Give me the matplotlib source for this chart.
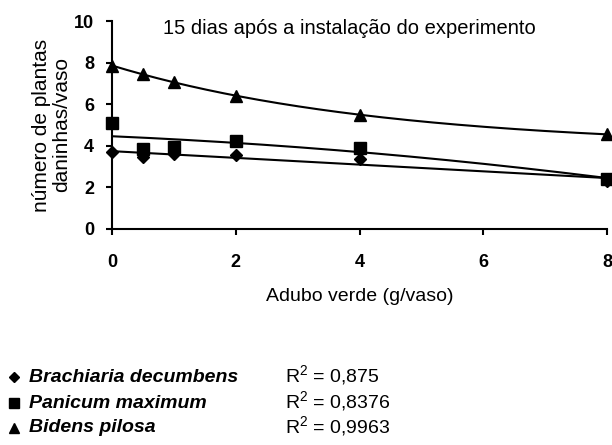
import numpy as np
import matplotlib
matplotlib.use("Agg")
import matplotlib.pyplot as plt

plt.rcParams['font.family'] = ['Liberation Sans', 'DejaVu Sans']
plt.rcParams['mathtext.fontset'] = 'custom'
plt.rcParams['mathtext.rm'] = 'Liberation Sans'

doses = [0, 0.5, 1, 2, 4, 8]
brachiaria = [3.7, 3.45, 3.6, 3.55, 3.35, 2.3]
panicum = [5.1, 3.85, 3.95, 4.25, 3.9, 2.4]
bidens = [7.85, 7.45, 7.05, 6.4, 5.5, 4.55]
names = ["Brachiaria decumbens", "Panicum maximum", "Bidens pilosa"]
r2_labels = ["0,875", "0,8376", "0,9963"]
xticks = [0, 2, 4, 6, 8]
yticks = [0, 2, 4, 6, 8, 10]

fig = plt.figure(figsize=(6.12, 4.45), dpi=100)
ax = fig.add_axes([112 / 612, 1 - 229 / 445, (607 - 112) / 612, (229 - 21) / 445])

xf = np.linspace(0, 8, 200)
x = np.asarray(doses, float)


def poly_fit(vals, deg):
    c = np.polyfit(x, vals, deg)
    return np.polyval(c, xf)


def exp_asym_fit(vals):
    vals = np.asarray(vals, float)
    best = None
    for c in np.linspace(0.01, 1.5, 600):
        A = np.column_stack([np.ones_like(x), np.exp(-c * x)])
        coef, *_ = np.linalg.lstsq(A, vals, rcond=None)
        err = np.sum((A @ coef - vals) ** 2)
        if best is None or err < best[0]:
            best = (err, c, coef)
    _, c, coef = best
    return coef[0] + coef[1] * np.exp(-c * xf)


fits = [poly_fit(brachiaria, 1), poly_fit(panicum, 2), exp_asym_fit(bidens)]
series = [(brachiaria, 'D', 6.5), (panicum, 's', 8), (bidens, '^', 9)]
for (vals, m, ms), fy in zip(series, fits):
    ax.plot(doses, vals, linestyle='none', marker=m, color='black', markersize=ms, clip_on=False, zorder=3)
    ax.plot(xf, fy, color='black', lw=1.5)

ax.set_xlim(0, 8)
ax.set_ylim(0, 10)
ax.set_xticks(xticks)
ax.set_yticks(yticks)
for s in ['top', 'right']:
    ax.spines[s].set_visible(False)
for s in ['left', 'bottom']:
    ax.spines[s].set_linewidth(1.5)
ax.tick_params(axis='both', direction='out', length=4, width=1.5, labelsize=13)
ax.tick_params(axis='x', pad=14)
ax.tick_params(axis='y', pad=9)
for lab in ax.get_xticklabels() + ax.get_yticklabels():
    lab.set_fontweight('bold')

ax.set_xlabel("Adubo verde (g/vaso)", fontsize=14, labelpad=12)
ax.set_ylabel("número de plantas\ndaninhas/vaso", fontsize=15, labelpad=2, linespacing=1.1)
fig.text(349 / 612, 1 - 28 / 445, "15 dias após a instalação do experimento", fontsize=14.5,
         ha='center', va='center')

legend_markers = ['D', 's', '^']
legend_ms = [5.5, 7, 7.5]
ys = [377, 403, 428]
for name, m, ms, r2, y in zip(names, legend_markers, legend_ms, r2_labels, ys):
    yf = 1 - y / 445
    fig.lines.append(plt.Line2D([14 / 612], [yf], marker=m, color='black', markersize=ms,
                                linestyle='none', transform=fig.transFigure))
    fig.text(29 / 612, yf, name, fontsize=14, fontweight='bold', fontstyle='italic', va='center', ha='left')
    fig.text(285 / 612, yf + 0.004, r"R$^2$ = " + r2, fontsize=14, va='center', ha='left')

fig.savefig("out.png", dpi=100)
